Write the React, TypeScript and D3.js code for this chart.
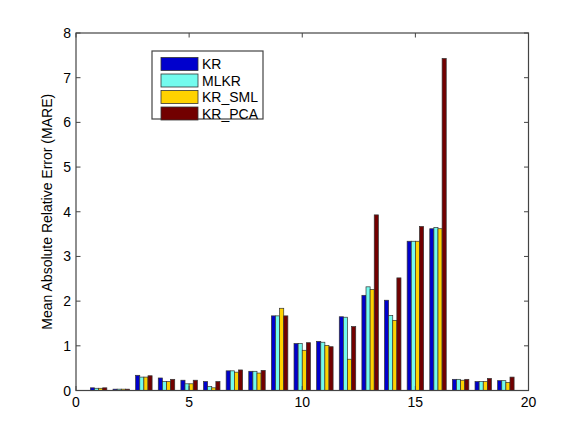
import * as d3 from 'd3'
import { useEffect, useRef } from 'react'

const seriesNames = ['KR', 'MLKR', 'KR_SML', 'KR_PCA']
const seriesColors = ['#0000cd', '#73fbee', '#ffd200', '#720000']
const groups = d3.range(1, 20)
const kr = [0.06, 0.03, 0.34, 0.28, 0.23, 0.20, 0.44, 0.43, 1.67, 1.05, 1.10, 1.65, 2.13, 2.02, 3.34, 3.62, 0.25, 0.20, 0.22]
const mlkr = [0.05, 0.03, 0.30, 0.20, 0.15, 0.09, 0.44, 0.43, 1.67, 1.05, 1.08, 1.64, 2.32, 1.68, 3.34, 3.65, 0.25, 0.20, 0.22]
const krSml = [0.05, 0.03, 0.30, 0.20, 0.15, 0.06, 0.41, 0.39, 1.84, 0.90, 1.01, 0.70, 2.26, 1.57, 3.34, 3.62, 0.23, 0.20, 0.18]
const krPca = [0.06, 0.03, 0.33, 0.25, 0.23, 0.20, 0.46, 0.45, 1.67, 1.07, 0.98, 1.43, 3.93, 2.52, 3.67, 7.43, 0.25, 0.27, 0.30]
const xTicks = [0, 5, 10, 15, 20]
const yTicks = [0, 1, 2, 3, 4, 5, 6, 7, 8]

const W = 584, H = 439
const m = { left: 76, right: 55.5, top: 33, bottom: 48.5 }

function draw(svgEl: SVGSVGElement) {
  const svg = d3.select(svgEl)
  svg.selectAll('*').remove()
  const x = d3.scaleLinear().domain([0, 20]).range([m.left, W - m.right])
  const y = d3.scaleLinear().domain([0, 8]).range([H - m.bottom, m.top])
  const font = 'Liberation Sans, Arial, Helvetica, sans-serif'

  svg.append('rect').attr('width', W).attr('height', H).attr('fill', '#fff')

  const data = [kr, mlkr, krSml, krPca]
  const n = data.length
  const groupW = Math.min(0.8, n / (n + 1.5))
  const bw = groupW / n

  // bars
  data.forEach((vals, s) => {
    svg.append('g').selectAll('rect')
      .data(vals).enter().append('rect')
      .attr('x', (d, i) => x(groups[i] - groupW / 2 + s * bw))
      .attr('width', x(bw) - x(0))
      .attr('y', d => y(d))
      .attr('height', d => y(0) - y(d))
      .attr('fill', seriesColors[s])
      .attr('stroke', '#333').attr('stroke-width', 0.7)
  })

  // box + ticks
  const axisCol = '#444'
  const g = svg.append('g')
  g.append('rect')
    .attr('x', x(0)).attr('y', y(8))
    .attr('width', x(20) - x(0)).attr('height', y(0) - y(8))
    .attr('fill', 'none').attr('stroke', axisCol).attr('stroke-width', 1.2)
  const tl = 4.5
  xTicks.forEach(t => {
    g.append('line').attr('x1', x(t)).attr('x2', x(t)).attr('y1', y(0)).attr('y2', y(0) - tl).attr('stroke', axisCol)
    g.append('line').attr('x1', x(t)).attr('x2', x(t)).attr('y1', y(8)).attr('y2', y(8) + tl).attr('stroke', axisCol)
    g.append('text').attr('x', x(t)).attr('y', y(0) + 16).attr('text-anchor', 'middle')
      .attr('font-family', font).attr('font-size', 14).text(t)
  })
  yTicks.forEach(t => {
    g.append('line').attr('x1', x(0)).attr('x2', x(0) + tl).attr('y1', y(t)).attr('y2', y(t)).attr('stroke', axisCol)
    g.append('line').attr('x1', x(20)).attr('x2', x(20) - tl).attr('y1', y(t)).attr('y2', y(t)).attr('stroke', axisCol)
    g.append('text').attr('x', x(0) - 5).attr('y', y(t) + 5).attr('text-anchor', 'end')
      .attr('font-family', font).attr('font-size', 14).text(t)
  })
  svg.append('text')
    .attr('transform', `translate(52,${(y(0) + y(8)) / 2}) rotate(-90)`)
    .attr('text-anchor', 'middle').attr('font-family', font).attr('font-size', 14)
    .text('Mean Absolute Relative Error (MARE)')

  // legend
  const lg = svg.append('g').attr('transform', 'translate(152,51)')
  lg.append('rect').attr('width', 111).attr('height', 68)
    .attr('fill', '#fff').attr('stroke', axisCol).attr('stroke-width', 1.2)
  seriesNames.forEach((name, i) => {
    const cy = 13 + i * 16.5
    lg.append('rect').attr('x', 9).attr('y', cy - 6.5).attr('width', 37).attr('height', 13)
      .attr('fill', seriesColors[i]).attr('stroke', '#333').attr('stroke-width', 0.8)
    lg.append('text').attr('x', 50).attr('y', cy + 5)
      .attr('font-family', font).attr('font-size', 14).text(name)
  })
}

export default function App() {
  const ref = useRef<SVGSVGElement>(null)
  useEffect(() => {
    if (ref.current) draw(ref.current)
  })
  return (
    <svg ref={ref} width={W} height={H} style={{ position: 'absolute', left: 0, top: 0 }} />
  )
}
